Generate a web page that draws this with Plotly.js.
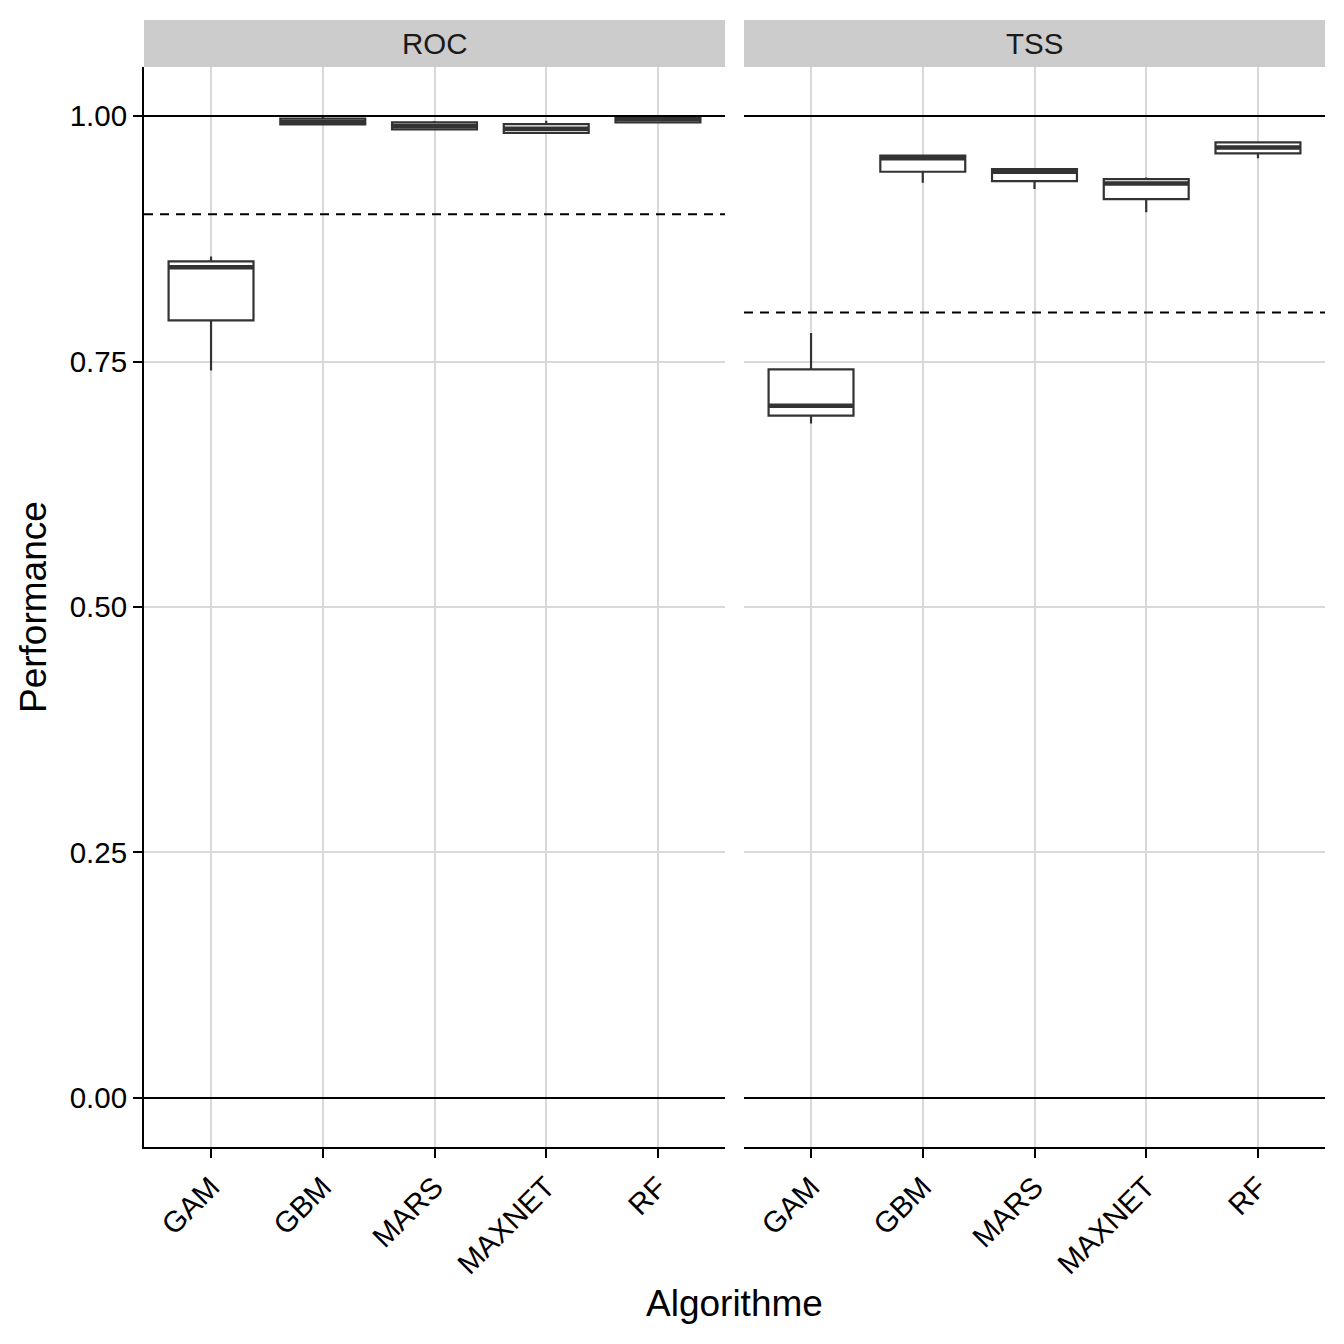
<!DOCTYPE html>
<html>
<head>
<meta charset="utf-8">
<script src="https://cdn.plot.ly/plotly-3.0.1.min.js"></script>
<style>html,body{margin:0;padding:0;background:#fff;}#chart{width:1344px;height:1344px;}</style>
</head>
<body>
<div id="chart"></div>
<script>
const algorithms = ['GAM','GBM','MARS','MAXNET','RF'];
const panels = ['ROC','TSS'];
const rocLower  = [0.741, 0.991, 0.9855, 0.982, 0.993];
const rocQ1     = [0.792, 0.9915, 0.9865, 0.983, 0.9936];
const rocMedian = [0.846, 0.994, 0.990, 0.987, 0.997];
const rocQ3     = [0.852, 0.9975, 0.9936, 0.9919, 1.0];
const rocUpper  = [0.857, 0.999, 0.995, 0.9952, 1.0005];
const tssLower  = [0.687, 0.932, 0.9257, 0.902, 0.957];
const tssQ1     = [0.695, 0.9433, 0.9338, 0.9155, 0.962];
const tssMedian = [0.705, 0.957, 0.9433, 0.9314, 0.968];
const tssQ3     = [0.742, 0.9597, 0.946, 0.9358, 0.9732];
const tssUpper  = [0.779, 0.9597, 0.946, 0.9375, 0.9745];
const thresholds = [0.9, 0.8];
const yTickVals = [0, 0.25, 0.5, 0.75, 1];
const yTickText = ['0.00','0.25','0.50','0.75','1.00'];

const boxStyle = {
  type:'box', boxpoints:false, width:0.76,
  line:{color:'#333333', width:2.2}, fillcolor:'#ffffff', showlegend:false, whiskerwidth:0, hoverinfo:'skip'
};
const medStyle = {
  type:'box', boxpoints:false, width:0.76,
  line:{color:'#333333', width:4.5}, fillcolor:'rgba(0,0,0,0)', showlegend:false, whiskerwidth:0, hoverinfo:'skip'
};
const traces = [
  Object.assign({}, boxStyle, {x:algorithms, q1:rocQ1, median:rocMedian, q3:rocQ3, lowerfence:rocLower, upperfence:rocUpper, xaxis:'x', yaxis:'y'}),
  Object.assign({}, medStyle, {x:algorithms, q1:rocMedian, median:rocMedian, q3:rocMedian, lowerfence:rocMedian, upperfence:rocMedian, xaxis:'x', yaxis:'y'}),
  Object.assign({}, boxStyle, {x:algorithms, q1:tssQ1, median:tssMedian, q3:tssQ3, lowerfence:tssLower, upperfence:tssUpper, xaxis:'x2', yaxis:'y2'}),
  Object.assign({}, medStyle, {x:algorithms, q1:tssMedian, median:tssMedian, q3:tssMedian, lowerfence:tssMedian, upperfence:tssMedian, xaxis:'x2', yaxis:'y2'})
];

const W = 1344, H = 1344;
const mL = 144, mR = 19, mT = 67, mB = 197;
const plotW = W - mL - mR;
const plotH = H - mT - mB;
const p1 = [0, (725 - mL) / plotW];
const p2 = [(744 - mL) / plotW, 1];
const font = 'Liberation Sans, Arial, sans-serif';

const xCommon = {
  type:'category', range:[-0.6, 4.6], showgrid:true, gridcolor:'#d9d9d9', gridwidth:2,
  showline:true, linecolor:'#000', linewidth:2, ticks:'outside', ticklen:9, tickcolor:'#000', tickwidth:2,
  tickangle:-45, tickfont:{family:font, size:29.5, color:'#000'}, zeroline:false, fixedrange:true
};
const yCommon = {
  range:[-0.05, 1.05], tickvals:yTickVals, ticktext:yTickText, showgrid:true, gridcolor:'#d9d9d9', gridwidth:2,
  zeroline:false, tickfont:{family:font, size:29.5, color:'#000'}
};

const shapes = [];
const annotations = [];
panels.forEach((p, i) => {
  const xr = i === 0 ? 'x' : 'x2';
  const yr = i === 0 ? 'y' : 'y2';
  const dom = i === 0 ? p1 : p2;
  shapes.push({type:'line', xref:xr+' domain', yref:yr, x0:0, x1:1, y0:0, y1:0, line:{color:'#000', width:2}, layer:'above'});
  shapes.push({type:'line', xref:xr+' domain', yref:yr, x0:0, x1:1, y0:1, y1:1, line:{color:'#000', width:2}, layer:'above'});
  shapes.push({type:'line', xref:xr+' domain', yref:yr, x0:0, x1:1, y0:thresholds[i], y1:thresholds[i], line:{color:'#000', width:2, dash:'9px,7px'}, layer:'above'});
  shapes.push({type:'rect', xref:'paper', yref:'paper', x0:dom[0], x1:dom[1], y0:1, y1:1 + 47/plotH, fillcolor:'#cccccc', line:{width:0}});
  annotations.push({xref:'paper', yref:'paper', x:(dom[0]+dom[1])/2, y:1 + 23.5/plotH, text:p, showarrow:false,
    font:{family:font, size:29.5, color:'#1a1a1a'}, xanchor:'center', yanchor:'middle'});
});
annotations.push({xref:'paper', yref:'paper', x:(734.5 - mL)/plotW, y:-(1303 - 1147)/plotH, text:'Algorithme', showarrow:false,
  font:{family:font, size:37, color:'#000'}, xanchor:'center', yanchor:'middle'});
annotations.push({xref:'paper', yref:'paper', x:-(144 - 33)/plotW, y:(1147 - 607)/plotH, text:'Performance', showarrow:false, textangle:-90,
  font:{family:font, size:37, color:'#000'}, xanchor:'center', yanchor:'middle'});

const layout = {
  width:W, height:H, margin:{l:mL, r:mR, t:mT, b:mB, pad:0},
  paper_bgcolor:'#fff', plot_bgcolor:'#fff', showlegend:false, boxmode:'overlay',
  xaxis: Object.assign({}, xCommon, {domain:p1, anchor:'y'}),
  xaxis2: Object.assign({}, xCommon, {domain:p2, anchor:'y2'}),
  yaxis: Object.assign({}, yCommon, {anchor:'x', showline:true, linecolor:'#000', linewidth:2, ticks:'outside', ticklen:9, tickcolor:'#000', tickwidth:2}),
  yaxis2: Object.assign({}, yCommon, {anchor:'x2', matches:'y', showticklabels:false, showline:false, ticks:''}),
  shapes:shapes, annotations:annotations
};
Plotly.newPlot('chart', traces, layout, {staticPlot:true, displayModeBar:false});
</script>
</body>
</html>
